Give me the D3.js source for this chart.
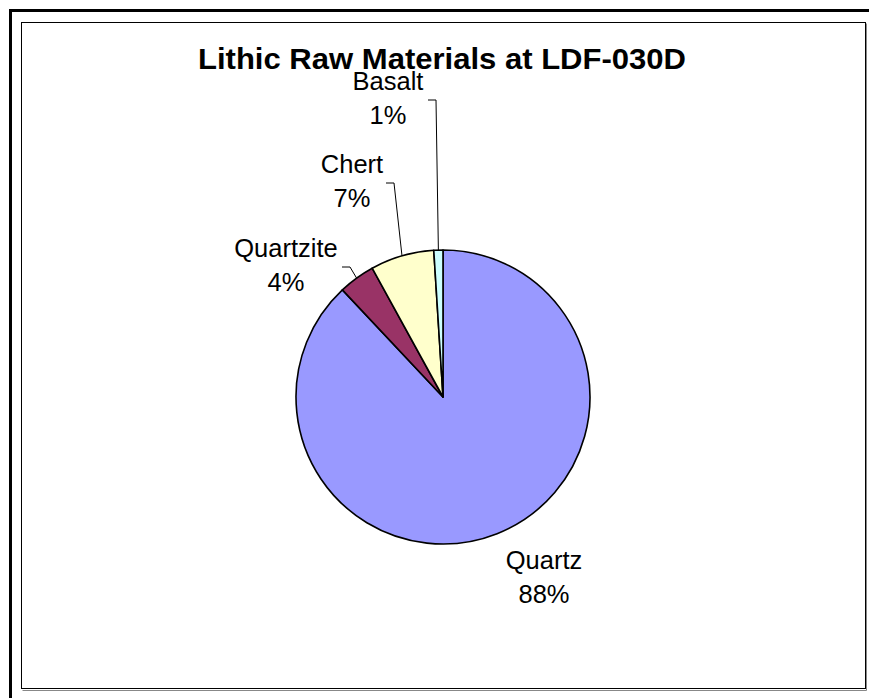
<!DOCTYPE html>
<html>
<head>
<meta charset="utf-8"/>
<script src="https://cdnjs.cloudflare.com/ajax/libs/d3/7.8.5/d3.min.js"></script>
<style>
  body { margin: 0; background: #fff; }
  text { font-family: "Liberation Sans", Arial, sans-serif; fill: #000; }
</style>
</head>
<body>
<script>
// chart data
const materials = ['Quartz', 'Quartzite', 'Chert', 'Basalt'];
const shares = [88, 4, 7, 1];
const colors = ['#9999ff', '#993366', '#ffffcc', '#ccffff'];
const title = 'Lithic Raw Materials at LDF-030D';

const W = 869, H = 698;
const svg = d3.select('body').append('svg')
  .attr('width', W)
  .attr('height', H);

svg.append('rect').attr('width', W).attr('height', H).attr('fill', '#fff');

// outer heavy frame (runs off the right/bottom of the picture)
svg.append('rect')
  .attr('x', 10.5).attr('y', 10.5)
  .attr('width', W + 20).attr('height', H + 20)
  .attr('fill', 'none').attr('stroke', '#000').attr('stroke-width', 3);

// chart area box with a grey shadow line
svg.append('path')
  .attr('d', 'M22.5,690.5 H866.5 V23.5')
  .attr('fill', 'none').attr('stroke', '#888').attr('stroke-width', 1);
svg.append('rect')
  .attr('x', 21.5).attr('y', 22.5)
  .attr('width', 844).attr('height', 666)
  .attr('fill', '#fff').attr('stroke', '#000').attr('stroke-width', 1);

svg.append('text')
  .attr('x', 442).attr('y', 69)
  .attr('text-anchor', 'middle')
  .attr('textLength', 488)
  .attr('lengthAdjust', 'spacingAndGlyphs')
  .style('font-size', '29px').style('font-weight', 'bold')
  .text(title);

const cx = 443, cy = 397, r = 147;
const data = materials.map((m, i) => ({ name: m, value: shares[i], color: colors[i] }));
const total = d3.sum(shares);

const pie = d3.pie().sort(null).value(d => d.value);
const arc = d3.arc().innerRadius(0).outerRadius(r);
const arcs = pie(data);

const g = svg.append('g').attr('transform', `translate(${cx},${cy})`);

g.selectAll('path.slice')
  .data(arcs)
  .enter().append('path')
  .attr('class', 'slice')
  .attr('d', arc)
  .attr('fill', d => d.data.color)
  .attr('stroke', '#000')
  .attr('stroke-width', 1.6)
  .attr('stroke-linejoin', 'round');

// label placement (offsets of the label centre from the pie centre)
const labelPos = {
  Quartz:    { dx: 101, dy: 172, leader: false },
  Quartzite: { dx: -157, dy: -140, leader: true, side: 342 - cx },
  Chert:     { dx: -91, dy: -224, leader: true, side: 386 - cx },
  Basalt:    { dx: -55, dy: -307, leader: true, side: 428 - cx }
};
const lineGap = 34;

const labels = g.selectAll('g.label')
  .data(arcs)
  .enter().append('g')
  .attr('class', 'label');

labels.append('text')
  .attr('x', d => labelPos[d.data.name].dx)
  .attr('y', d => labelPos[d.data.name].dy)
  .attr('text-anchor', 'middle')
  .style('font-size', '25.5px')
  .text(d => d.data.name);

labels.append('text')
  .attr('x', d => labelPos[d.data.name].dx)
  .attr('y', d => labelPos[d.data.name].dy + lineGap)
  .attr('text-anchor', 'middle')
  .style('font-size', '25.5px')
  .text(d => Math.round(d.data.value / total * 100) + '%');

// leader lines: short horizontal tick next to the label, then to the rim
labels.filter(d => labelPos[d.data.name].leader)
  .append('path')
  .attr('fill', 'none')
  .attr('stroke', '#000')
  .attr('stroke-width', 1)
  .attr('d', d => {
    const p = labelPos[d.data.name];
    const mid = (d.startAngle + d.endAngle) / 2;
    const ex = Math.sin(mid) * r, ey = -Math.cos(mid) * r;
    const ty = p.dy + lineGap / 2 - 7;
    return `M${p.side},${ty} H${p.side + 8} L${ex},${ey}`;
  });
</script>
</body>
</html>
